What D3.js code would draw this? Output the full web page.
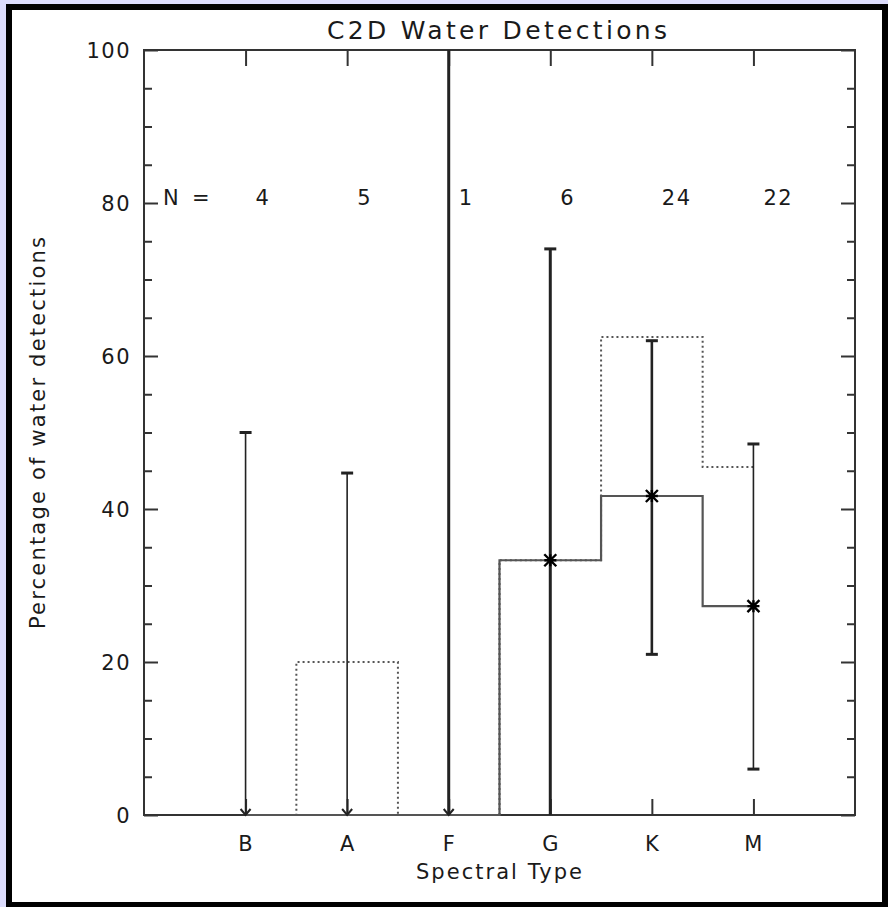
<!DOCTYPE html>
<html>
<head>
<meta charset="utf-8">
<script src="https://cdn.jsdelivr.net/npm/d3@7"></script>
<style>
  html, body { margin: 0; padding: 0; background: #dcdcfc; }
  svg { display: block; }
  text { font-family: "DejaVu Sans", sans-serif; fill: #1a1a1a; }
</style>
</head>
<body>
<svg id="chart" width="888" height="907"></svg>
<script>
// ---- data ----
const categories   = ["B", "A", "F", "G", "K", "M"];
const counts       = [4, 5, 1, 6, 24, 22];
const detectPct    = [0, 0, 0, 33.3, 41.7, 27.3];     // solid histogram
const altPct       = [0, 20, 0, 33.3, 62.5, 45.5];    // dotted histogram
const errLow       = [0, 0, 0, 0, 21, 6];
const errHigh      = [50, 44.7, 100, 74, 62, 48.5];
const isUpperLimit = [true, true, true, false, false, false];
const errWidth     = [1.6, 1.6, 3, 3, 2.6, 1.6];
const yTicks       = [0, 20, 40, 60, 80, 100];
const titleText    = "C2D Water Detections";
const xLabelText   = "Spectral Type";
const yLabelText   = "Percentage of water detections";

// ---- layout ----
const svg = d3.select("#chart");
const W = 888, H = 907;
const plot = { left: 144, right: 855, top: 50, bottom: 815 };

// frame
svg.append("rect").attr("x", 9).attr("y", 7).attr("width", W - 12).attr("height", H - 9)
  .attr("fill", "#ffffff").attr("stroke", "#000").attr("stroke-width", 6);

const x = d3.scaleLinear().domain([-1, categories.length]).range([plot.left, plot.right]);
const y = d3.scaleLinear().domain([0, 100]).range([plot.bottom, plot.top]);

const axisColor = "#333";
const g = svg.append("g");

// axes box
g.append("rect").attr("x", plot.left).attr("y", plot.top)
  .attr("width", plot.right - plot.left).attr("height", plot.bottom - plot.top)
  .attr("fill", "none").attr("stroke", axisColor).attr("stroke-width", 2);

// y ticks (left & right) via d3 axes
const minorVals = d3.range(0, 101, 5).filter(v => v % 20 !== 0);
function yAxisGroup(axisGen, tx) {
  const a = g.append("g").attr("transform", `translate(${tx},0)`).call(axisGen);
  a.select(".domain").remove();
  a.selectAll("line").attr("stroke", axisColor).attr("stroke-width", 2);
  return a;
}
const leftMajor = yAxisGroup(d3.axisRight(y).tickValues(yTicks).tickSize(14).tickFormat(""), plot.left);
yAxisGroup(d3.axisRight(y).tickValues(minorVals).tickSize(8).tickFormat(""), plot.left);
yAxisGroup(d3.axisLeft(y).tickValues(yTicks).tickSize(14).tickFormat(""), plot.right);
yAxisGroup(d3.axisLeft(y).tickValues(minorVals).tickSize(8).tickFormat(""), plot.right);

// y tick labels
g.append("g").selectAll("text").data(yTicks).join("text")
  .attr("x", 131).attr("y", d => y(d) + 8)
  .attr("text-anchor", "end").attr("font-size", 21).attr("letter-spacing", 1.5)
  .text(d => d);

// x ticks top & bottom
const catIdx = categories.map((c, i) => i);
function xAxisGroup(axisGen, ty) {
  const a = g.append("g").attr("transform", `translate(0,${ty})`).call(axisGen);
  a.select(".domain").remove();
  a.selectAll("line").attr("stroke", axisColor).attr("stroke-width", 2);
  return a;
}
xAxisGroup(d3.axisBottom(x).tickValues(catIdx).tickSize(16).tickFormat(""), plot.top);
xAxisGroup(d3.axisTop(x).tickValues(catIdx).tickSize(16).tickFormat(""), plot.bottom);

// x tick labels
g.append("g").selectAll("text").data(categories).join("text")
  .attr("x", (d, i) => x(i)).attr("y", 851)
  .attr("text-anchor", "middle").attr("font-size", 21)
  .text(d => d);

// histogram step paths (IDL psym=10 style)
function stepPoints(vals) {
  const pts = [[x(0), y(vals[0])]];
  for (let i = 1; i < vals.length; i++) {
    const xm = x(i - 0.5);
    pts.push([xm, y(vals[i - 1])]);
    pts.push([xm, y(vals[i])]);
  }
  pts.push([x(vals.length - 1), y(vals[vals.length - 1])]);
  return pts;
}
const line = d3.line();
g.append("path").attr("d", line(stepPoints(altPct)))
  .attr("fill", "none").attr("stroke", "#555").attr("stroke-width", 2)
  .attr("stroke-dasharray", "2,3");
g.append("path").attr("d", line(stepPoints(detectPct)))
  .attr("fill", "none").attr("stroke", "#555").attr("stroke-width", 2.2);

// error bars
const eb = g.append("g");
categories.forEach((c, i) => {
  const cx = x(i);
  eb.append("line").attr("x1", cx).attr("x2", cx)
    .attr("y1", y(errHigh[i])).attr("y2", y(errLow[i]))
    .attr("stroke", "#222").attr("stroke-width", errWidth[i]);
  if (errHigh[i] < 100) {
    eb.append("line").attr("x1", cx - 6).attr("x2", cx + 6)
      .attr("y1", y(errHigh[i])).attr("y2", y(errHigh[i]))
      .attr("stroke", "#222").attr("stroke-width", 3);
  }
  if (isUpperLimit[i]) {
    const yb = y(errLow[i]);
    eb.append("path")
      .attr("d", `M${cx - 5},${yb - 6} L${cx},${yb} L${cx + 5},${yb - 6}`)
      .attr("fill", "none").attr("stroke", "#222").attr("stroke-width", 2);
  } else if (errLow[i] > 0) {
    eb.append("line").attr("x1", cx - 6).attr("x2", cx + 6)
      .attr("y1", y(errLow[i])).attr("y2", y(errLow[i]))
      .attr("stroke", "#222").attr("stroke-width", 3);
  }
  if (!isUpperLimit[i]) {
    const cy = y(detectPct[i]);
    const s = 6;
    eb.append("path")
      .attr("d", `M${cx - s},${cy - s} L${cx + s},${cy + s} M${cx - s},${cy + s} L${cx + s},${cy - s} M${cx},${cy - s} L${cx},${cy + s} M${cx - s},${cy} L${cx + s},${cy}`)
      .attr("stroke", "#000").attr("stroke-width", 2.4).attr("fill", "none");
  }
});

// N labels
g.append("text").attr("x", 163).attr("y", 205).attr("font-size", 21)
  .attr("xml:space", "preserve").text("N  =");
g.append("g").selectAll("text").data(counts).join("text")
  .attr("x", (d, i) => x(i) + 10).attr("y", 205)
  .attr("font-size", 21).attr("letter-spacing", 1.5)
  .text(d => d);

// title & axis labels
svg.append("text").attr("x", 497).attr("y", 39).attr("text-anchor", "middle")
  .attr("font-size", 25).attr("textLength", 340).attr("lengthAdjust", "spacing")
  .text(titleText);
svg.append("text").attr("x", 499).attr("y", 879).attr("text-anchor", "middle")
  .attr("font-size", 21).attr("textLength", 166).attr("lengthAdjust", "spacing")
  .text(xLabelText);
svg.append("text").attr("transform", "translate(45,433) rotate(-90)")
  .attr("text-anchor", "middle").attr("font-size", 21)
  .attr("textLength", 392).attr("lengthAdjust", "spacing")
  .text(yLabelText);
</script>
</body>
</html>
